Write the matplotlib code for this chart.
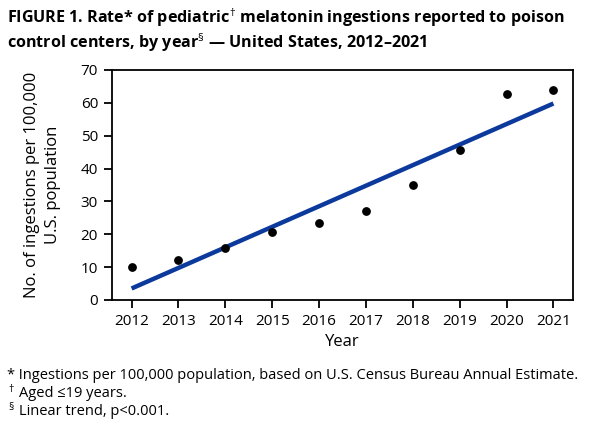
import matplotlib
matplotlib.use('Agg')
from matplotlib import pyplot as plt

years = [2012, 2013, 2014, 2015, 2016, 2017, 2018, 2019, 2020, 2021]
rates = [10.0, 12.1, 15.7, 20.7, 23.4, 27.2, 35.0, 45.5, 62.8, 64.0]
trend_years = [2012, 2021]
trend_rates = [3.5, 59.8]
y_ticks = [0, 10, 20, 30, 40, 50, 60, 70]

TITLE = ("FIGURE 1. Rate* of pediatric$^{\\dagger}$ melatonin ingestions reported to poison\n"
         "control centers, by year$^{\\S}$ \u2014 United States, 2012\u20132021")
# (marker, text) for the footnotes
NOTES = [("", "* Ingestions per 100,000 population, based on U.S. Census Bureau Annual Estimate."),
         ("\u2020", "Aged \u226419 years."),
         ("\u00a7", "Linear trend, p<0.001.")]

plt.rcParams['font.family'] = ['Open Sans', 'DejaVu Sans']
plt.rcParams['mathtext.fontset'] = 'custom'
plt.rcParams['mathtext.rm'] = 'Open Sans'

fig = plt.figure(figsize=(5.89, 4.32), dpi=100, facecolor='w')
ax = fig.add_axes([0.190, 0.3056, 0.783, 0.5324])

ax.plot(trend_years, trend_rates, color='#0b3a9c', linewidth=3.2, solid_capstyle='butt', zorder=2)
ax.scatter(years, rates, s=28, color='black', zorder=3)

ax.set_xlim(2011.58, 2021.42)
ax.set_ylim(0, 70)
ax.set_xticks(years)
ax.set_yticks(y_ticks)
ax.tick_params(axis='both', direction='out', length=6, width=1.3, labelsize=11, pad=4)
for s in ax.spines.values():
    s.set_linewidth(1.3)

ax.set_xlabel("Year", fontsize=12, labelpad=4)
ax.set_ylabel("No. of ingestions per 100,000\nU.S. population", fontsize=12, labelpad=14, linespacing=1.4)

fig.text(0.012, 0.985, TITLE, fontsize=11.6, fontweight='bold', va='top', ha='left', linespacing=1.12)
for i, (mark, note) in enumerate(NOTES):
    y = 0.122 - i * 0.041
    if mark:
        fig.text(0.014, y + 0.012, mark, fontsize=7.5, va='baseline', ha='left')
        fig.text(0.032, y, note, fontsize=10.5, va='baseline', ha='left')
    else:
        fig.text(0.012, y, note, fontsize=10.5, va='baseline', ha='left')

fig.savefig('out.png', dpi=100)
